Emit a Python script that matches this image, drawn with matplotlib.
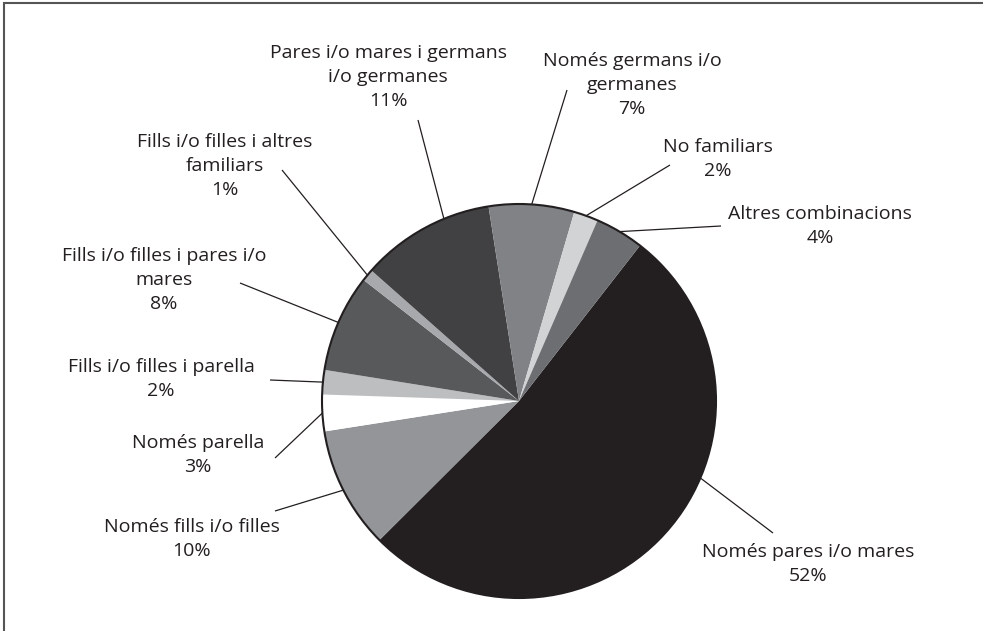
import matplotlib
matplotlib.use("Agg")
import matplotlib.pyplot as plt
import numpy as np
from matplotlib.patches import Circle, Rectangle

# ---- data ----
categories = [
    "Només pares i/o mares",
    "Només fills i/o filles",
    "Només parella",
    "Fills i/o filles i parella",
    "Fills i/o filles i pares i/o\nmares",
    "Fills i/o filles i altres\nfamiliars",
    "Pares i/o mares i germans\ni/o germanes",
    "Només germans i/o\ngermanes",
    "No familiars",
    "Altres combinacions",
]
values = [52, 10, 3, 2, 8, 1, 11, 7, 2, 4]
colors = ["#231f20", "#939598", "#ffffff", "#bcbec0", "#58595b",
          "#a7a9ac", "#414042", "#808285", "#d1d3d4", "#6d6e71"]

# ---- layout (pixel space, y measured from top) ----
W, H = 983, 631
cx, cy, R = 519, 401, 197
start_angle = 52.1
label_pos = [(808, 564), (192, 539), (198, 455), (161, 379), (164, 280),
             (225, 166), (388, 77), (632, 85), (718, 159), (820, 226)]
leader_text_end = [(773, 533), (275, 511), (275, 458), (270, 380), (240, 283),
                   (282, 170), (418, 120), (567, 90), (670, 165), (721, 226)]
leader_angle_override = {0: -23.0, 6: 112.4}

plt.rcParams['font.family'] = ['Open Sans', 'DejaVu Sans']
txt_color = "#231f20"

fig = plt.figure(figsize=(W / 100, H / 100), dpi=100)
ax = fig.add_axes([0, 0, 1, 1])

wedges, _ = ax.pie(values, colors=colors, startangle=start_angle,
                   counterclock=False, center=(cx, H - cy), radius=R,
                   wedgeprops=dict(linewidth=0))
ax.add_patch(Circle((cx, H - cy), R, fill=False, edgecolor=txt_color,
                    linewidth=1.5, zorder=5))

for i, (w, cat, v) in enumerate(zip(wedges, categories, values)):
    ang = leader_angle_override.get(i, (w.theta1 + w.theta2) / 2.0)
    ex = cx + R * np.cos(np.radians(ang))
    ey = (H - cy) + R * np.sin(np.radians(ang))
    lx, ly = label_pos[i]
    tx, ty = leader_text_end[i]
    ax.plot([tx, ex], [H - ty, ey], color=txt_color, lw=0.9,
            solid_capstyle="butt", zorder=4)
    ax.text(lx, H - ly, f"{cat}\n{v}%", ha="center", va="center",
            fontsize=14, color=txt_color, linespacing=1.45)

# outer frame (only top and left visible)
ax.add_patch(Rectangle((4, -10), W + 20, H - 3 + 10, fill=False,
                       edgecolor="#555555", linewidth=1.5, clip_on=False))

ax.set_xlim(0, W)
ax.set_ylim(0, H)
ax.set_aspect("auto")
ax.axis("off")
fig.savefig("out.png", dpi=100)
